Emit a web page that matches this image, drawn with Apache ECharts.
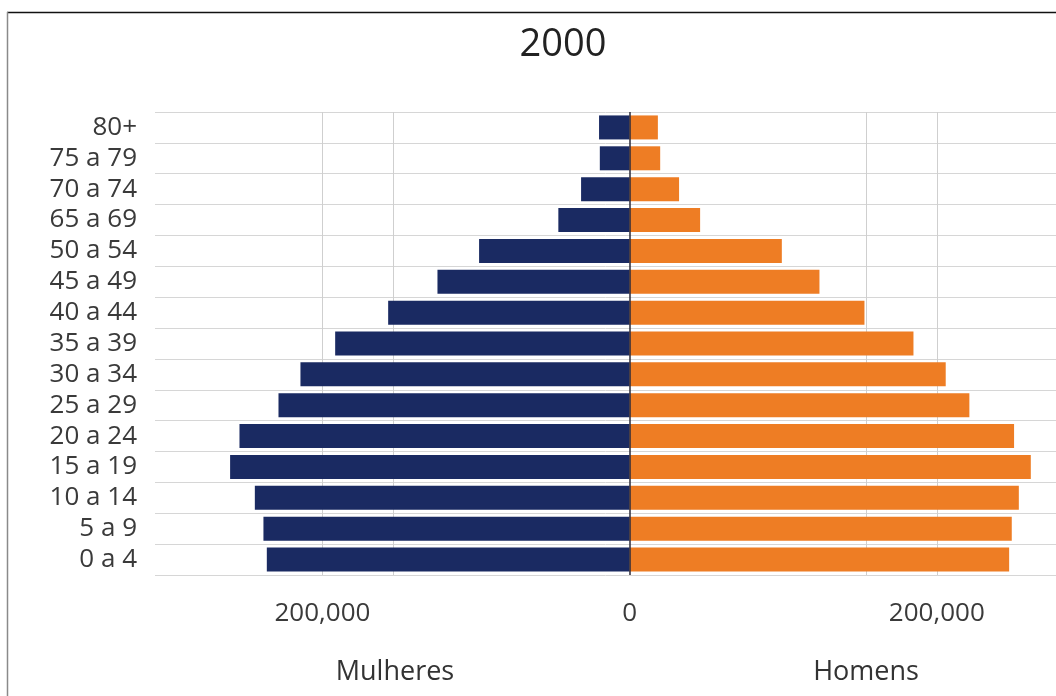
<!DOCTYPE html>
<html>
<head>
<meta charset="utf-8">
<title>Pirâmide etária 2000</title>
<script src="https://cdn.jsdelivr.net/npm/echarts@6/dist/echarts.min.js"></script>
<style>
  html, body { margin: 0; padding: 0; background: #fff; }
  #chart { width: 1056px; height: 696px; }
</style>
</head>
<body>
<div id="chart"></div>
<script>
// Age groups, listed bottom to top
const ageGroups = ['0 a 4', '5 a 9', '10 a 14', '15 a 19', '20 a 24', '25 a 29', '30 a 34',
  '35 a 39', '40 a 44', '45 a 49', '50 a 54', '65 a 69', '70 a 74', '75 a 79', '80+'];

// Population by age group
const mulheres = [236200, 238400, 244000, 260100, 254000, 228600, 214300,
  191700, 157200, 125100, 98000, 46400, 31600, 19400, 19900];
const homens = [247100, 248800, 253400, 261200, 250300, 221200, 205800,
  184800, 152900, 123600, 99100, 45900, 32200, 19900, 18400];

// Labelled ticks on the value axis and extra vertical guide lines
const xTickValues = [-200000, 0, 200000];
const guideValues = [-200000, -154000, 154000, 200000];

const FONT = '"Open Sans", "Noto Sans", sans-serif';
const NAVY = '#1a2a62';
const ORANGE = '#ee7d24';

const chart = echarts.init(document.getElementById('chart'), null, { renderer: 'canvas' });

chart.setOption({
  animation: false,
  backgroundColor: '#ffffff',
  grid: { left: 155, right: 0, top: 112, bottom: 121, containLabel: false },
  xAxis: {
    type: 'value',
    min: -309000,
    max: 277600,
    axisLine: { show: false },
    axisTick: { show: false },
    splitLine: { show: false },
    axisLabel: {
      customValues: xTickValues,
      margin: 26,
      color: '#3a3a3a',
      fontFamily: FONT,
      fontSize: 26,
      formatter: v => Math.abs(v).toLocaleString('en-US')
    }
  },
  yAxis: {
    type: 'category',
    data: ageGroups,
    axisLine: { show: false },
    axisTick: { show: false },
    axisLabel: {
      interval: 0,
      hideOverlap: false,
      margin: 18,
      color: '#3a3a3a',
      fontFamily: FONT,
      fontSize: 26
    },
    splitLine: { show: true, interval: 0, lineStyle: { color: '#d6d6d6', width: 1 } }
  },
  series: [
    {
      name: 'Mulheres',
      type: 'bar',
      stack: 'pop',
      barWidth: 24,
      itemStyle: { color: NAVY },
      data: mulheres.map(v => -v),
      markLine: {
        silent: true,
        z: 1,
        symbol: 'none',
        label: { show: false },
        lineStyle: { color: '#cfcfcf', width: 1, type: 'solid' },
        data: guideValues.map(v => ({ xAxis: v }))
      }
    },
    {
      name: 'Homens',
      type: 'bar',
      stack: 'pop',
      barWidth: 24,
      itemStyle: { color: ORANGE },
      data: homens,
      markLine: {
        silent: true,
        symbol: 'none',
        label: { show: false },
        lineStyle: { color: '#2a2a3a', width: 1.5, type: 'solid' },
        data: [{ xAxis: 0 }]
      }
    }
  ],
  graphic: [
    {
      type: 'line',
      shape: { x1: 7, y1: 12.5, x2: 1056, y2: 12.5 },
      style: { stroke: '#111', lineWidth: 1.5 }
    },
    {
      type: 'line',
      shape: { x1: 7.5, y1: 12, x2: 7.5, y2: 696 },
      style: { stroke: '#8a8a8a', lineWidth: 1.5 }
    },
    {
      type: 'text',
      x: 563, y: 45,
      style: { text: '2000', fill: '#222', font: '38px ' + FONT, align: 'center', verticalAlign: 'middle' }
    },
    {
      type: 'text',
      x: 395, y: 672,
      style: { text: 'Mulheres', fill: '#333', font: '27px ' + FONT, align: 'center', verticalAlign: 'middle' }
    },
    {
      type: 'text',
      x: 866, y: 672,
      style: { text: 'Homens', fill: '#333', font: '27px ' + FONT, align: 'center', verticalAlign: 'middle' }
    }
  ]
});
</script>
</body>
</html>
